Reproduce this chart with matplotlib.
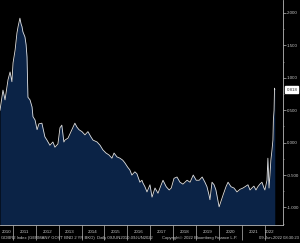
import matplotlib
matplotlib.use("Agg")
import matplotlib.pyplot as plt
from matplotlib.ticker import FixedLocator, MultipleLocator, NullFormatter, FuncFormatter

# GDBR2 daily yield (decimal year, percent)
years = [
    2010.44, 2010.57, 2010.66, 2010.79, 2010.88, 2010.96, 2011.01, 2011.10,
    2011.18, 2011.23, 2011.31, 2011.36, 2011.40, 2011.44, 2011.53, 2011.58,
    2011.62, 2011.66, 2011.75, 2011.84, 2011.88, 2011.97, 2012.06, 2012.14,
    2012.27, 2012.40, 2012.49, 2012.62, 2012.75, 2012.84, 2012.97, 2013.06,
    2013.14, 2013.23, 2013.28, 2013.41, 2013.58, 2013.71, 2013.80, 2013.89,
    2014.02, 2014.15, 2014.28, 2014.41, 2014.50, 2014.68, 2014.81, 2014.93,
    2015.07, 2015.20, 2015.33, 2015.42, 2015.55, 2015.68, 2015.80, 2015.89,
    2016.02, 2016.11, 2016.20, 2016.33, 2016.42, 2016.55, 2016.64, 2016.68,
    2016.77, 2016.86, 2016.99, 2017.08, 2017.21, 2017.34, 2017.48, 2017.56,
    2017.70, 2017.83, 2017.92, 2018.04, 2018.17, 2018.30, 2018.43, 2018.61,
    2018.74, 2018.88, 2019.01, 2019.14, 2019.27, 2019.39, 2019.48, 2019.57,
    2019.61, 2019.67, 2019.70, 2019.79, 2019.87, 2020.01, 2020.18, 2020.31,
    2020.40, 2020.53, 2020.66, 2020.79, 2020.92, 2021.05, 2021.14, 2021.27,
    2021.36, 2021.44, 2021.53, 2021.62, 2021.70, 2021.79, 2021.88, 2021.97,
    2022.01, 2022.10, 2022.14, 2022.19, 2022.23, 2022.27, 2022.32, 2022.36,
    2022.38, 2022.41, 2022.43, 2022.44,
]
yields = [
    0.50, 0.81, 0.66, 0.97, 1.09, 0.94, 1.23, 1.43,
    1.69, 1.79, 1.92, 1.83, 1.79, 1.71, 1.63, 1.51,
    1.32, 0.70, 0.66, 0.55, 0.40, 0.35, 0.20, 0.29,
    0.30, 0.09, 0.04, -0.04, 0.01, -0.07, -0.02, 0.23,
    0.27, 0.01, 0.04, 0.07, 0.20, 0.30, 0.24, 0.20,
    0.17, 0.12, 0.17, 0.09, 0.04, 0.01, -0.04, -0.11,
    -0.16, -0.19, -0.24, -0.16, -0.22, -0.24, -0.27, -0.31,
    -0.38, -0.42, -0.50, -0.45, -0.48, -0.61, -0.58, -0.62,
    -0.68, -0.76, -0.65, -0.84, -0.70, -0.78, -0.65, -0.58,
    -0.68, -0.73, -0.70, -0.55, -0.53, -0.61, -0.64, -0.58,
    -0.61, -0.50, -0.58, -0.58, -0.53, -0.61, -0.68, -0.81,
    -0.88, -0.70, -0.61, -0.65, -0.73, -0.99, -0.81, -0.68,
    -0.61, -0.68, -0.70, -0.76, -0.72, -0.70, -0.68, -0.65,
    -0.73, -0.70, -0.67, -0.73, -0.68, -0.64, -0.61, -0.70,
    -0.73, -0.58, -0.24, -0.70, -0.50, -0.27, -0.11, 0.04,
    0.35, 0.50, 0.84, 0.818,
]
year_labels = [str(y) for y in range(2010, 2023)]
last_value = 0.818

bg = "black"
fill_col = "#0b2346"
grey = "#b8b8b8"
txt = "#c8c8c8"
font = "Liberation Sans"

fig = plt.figure(figsize=(3.0, 2.43), dpi=100, facecolor=bg)
ax = fig.add_axes([0, 1 - 225 / 243, 283 / 300, 225 / 243], facecolor=bg)

ymin, ymax = -1.27, 2.20
ax.fill_between(years, yields, ymin, color=fill_col, lw=0)
ax.plot(years, yields, color="#e0e0e0", lw=0.6)
ax.set_ylim(ymin, ymax)
ax.set_xlim(2010.44, 2022.80)

for s in ["top", "left"]:
    ax.spines[s].set_visible(False)
for s in ["right", "bottom"]:
    ax.spines[s].set_color(grey)
    ax.spines[s].set_linewidth(0.6)

# y axis on the right
ax.yaxis.tick_right()
ax.yaxis.set_major_locator(MultipleLocator(0.5))
ax.yaxis.set_minor_locator(MultipleLocator(0.25))
ax.yaxis.set_major_formatter(FuncFormatter(lambda v, p: f"{v:.3f}"))
ax.tick_params(axis="y", which="major", colors=grey, labelcolor=txt,
               labelsize=3.2, length=2, width=0.5, pad=0.6)
ax.tick_params(axis="y", which="minor", colors=grey, length=1, width=0.4)

# x axis: separators at year starts, labels in the middle of each year
seps = list(range(2011, 2023))
ax.xaxis.set_major_locator(FixedLocator(seps))
ax.xaxis.set_major_formatter(NullFormatter())
starts = [2010.44] + seps
ends = seps + [2022.44]
mids = [(a + b) / 2 for a, b in zip(starts, ends)]
ax.xaxis.set_minor_locator(FixedLocator(mids))
ax.xaxis.set_minor_formatter(FuncFormatter(
    lambda v, p: year_labels[p] if p is not None and p < len(year_labels) else ""))
ax.tick_params(axis="x", which="major", colors=grey, length=11, width=0.5)
ax.tick_params(axis="x", which="minor", length=0, labelcolor=txt,
               labelsize=3.2, pad=3.5)

for lab in ax.get_xticklabels(minor=True) + ax.get_yticklabels():
    lab.set_family(font)

# last value tag
ax.annotate(f"{last_value:.3f}", xy=(1.0, last_value), xycoords=("axes fraction", "data"),
            xytext=(2.5, 0), textcoords="offset points", va="center", ha="left",
            fontsize=3.2, color="#303030", family=font,
            bbox=dict(boxstyle="square,pad=0.25", fc="white", ec="white"))

fig.text(0.003, 0.012, "GDBR2 Index (GERMANY GOVT BND 2 YR BKO)  Daily 09JUN2010-09JUN2022",
         color=txt, fontsize=3.0, ha="left", va="bottom", family=font)
fig.text(0.54, 0.012, "Copyright\u00a9 2022 Bloomberg Finance L.P.",
         color=txt, fontsize=3.0, ha="left", va="bottom", family=font)
fig.text(0.997, 0.012, "09-Jun-2022 08:30:23",
         color=txt, fontsize=3.0, ha="right", va="bottom", family=font)

fig.savefig("out.png", dpi=100, facecolor=bg)
